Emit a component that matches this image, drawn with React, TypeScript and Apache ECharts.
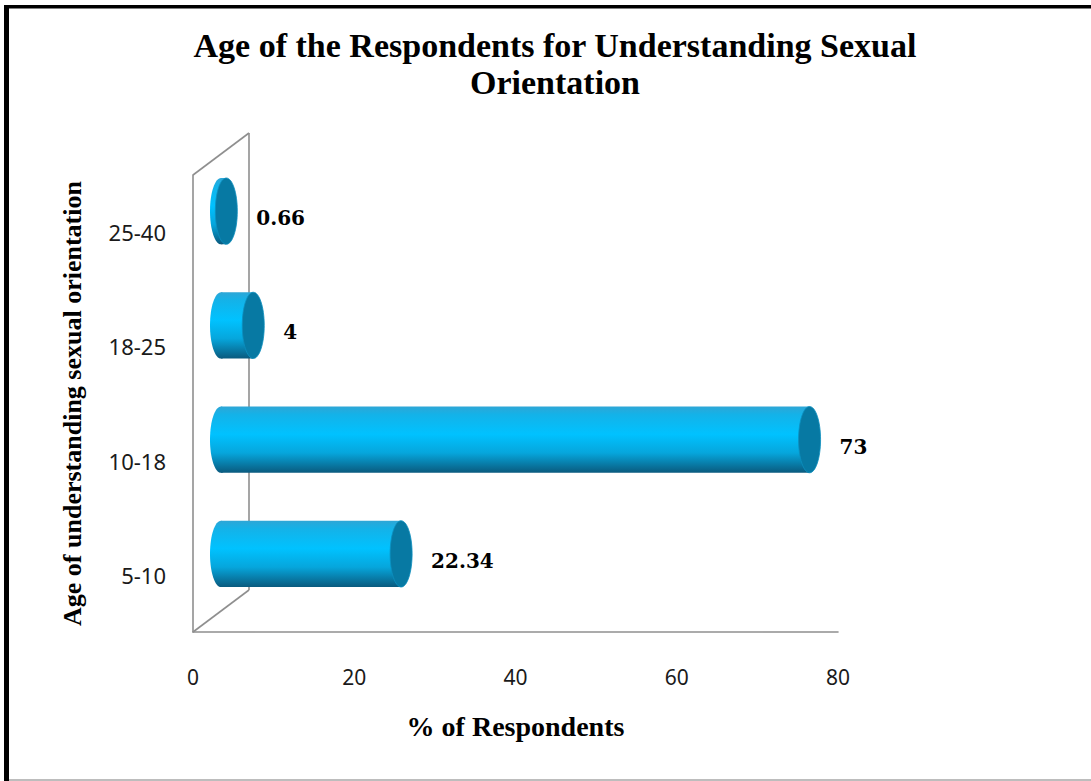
import React, { useEffect, useRef } from "react";
import * as echarts from "echarts";

const categories = ["5-10", "10-18", "18-25", "25-40"];
const values = [22.34, 73, 4, 0.66];
const valueLabels = ["22.34", "73", "4", "0.66"];
const xMin = 0;
const xMax = 80;
const xInterval = 20;

const DEPTH_X = 56;
const DEPTH_Y = -42;
const WALL = "#8f8f8f";

export default function App() {
  const ref = useRef<HTMLDivElement>(null);
  useEffect(() => {
    if (!ref.current) return;
    const chart = echarts.init(ref.current, null, { renderer: "svg" });
    const bodyGradient = () =>
      new echarts.graphic.LinearGradient(0, 0, 0, 1, [
        { offset: 0, color: "#2ea6d6" },
        { offset: 0.12, color: "#14b2e8" },
        { offset: 0.42, color: "#00c2ff" },
        { offset: 0.7, color: "#06a6dc" },
        { offset: 1, color: "#0a5a7e" },
      ]);
    const option: any = {
      animation: false,
      backgroundColor: "#ffffff",
      grid: { left: 193, right: 253, top: 175, bottom: 149 },
      xAxis: {
        type: "value",
        min: xMin,
        max: xMax,
        interval: xInterval,
        name: "% of Respondents",
        nameLocation: "middle",
        nameGap: 80,
        nameTextStyle: {
          fontFamily: "Liberation Serif",
          fontWeight: "bold",
          fontSize: 28,
          color: "#000",
        },
        axisLine: { show: true, lineStyle: { color: WALL, width: 1.6 } },
        axisTick: { show: false },
        splitLine: { show: false },
        axisLabel: {
          margin: 34,
          fontFamily: "Noto Sans",
          fontSize: 21,
          color: "#1a1a1a",
        },
      },
      yAxis: {
        type: "category",
        data: categories,
        name: "Age of understanding sexual orientation",
        nameLocation: "middle",
        nameRotate: 90,
        nameGap: 108,
        nameTextStyle: {
          fontFamily: "Liberation Serif",
          fontWeight: "bold",
          fontSize: 26,
          color: "#000",
        },
        axisLine: { show: true, lineStyle: { color: WALL, width: 1.6 } },
        axisTick: { show: false },
        splitLine: { show: false },
        axisLabel: {
          margin: 27,
          fontFamily: "Noto Sans",
          fontSize: 22,
          color: "#1a1a1a",
          lineHeight: 30,
          padding: [12, 0, 0, 0],
        },
      },
      graphic: [
        { type: "rect", shape: { x: 4, y: 5, width: 5, height: 776 }, style: { fill: "#000" }, z: 100 },
        { type: "rect", shape: { x: 4, y: 5, width: 1087, height: 3.5 }, style: { fill: "#000" }, z: 100 },
        { type: "rect", shape: { x: 9, y: 779, width: 1082, height: 2 }, style: { fill: "#bdbdbd" }, z: 100 },
        {
          type: "text",
          x: 555,
          y: 27,
          style: {
            text: "Age of the Respondents for Understanding Sexual\nOrientation",
            fontFamily: "Liberation Serif",
            fontWeight: "bold",
            fontSize: 34,
            lineHeight: 37,
            fill: "#000",
            textAlign: "center",
            textVerticalAlign: "top",
          },
        },
      ],
      series: [
        {
          type: "custom",
          name: "walls",
          data: [[0, 0]],
          encode: { x: 0, y: 1 },
          clip: false,
          silent: true,
          z: 1,
          renderItem: (params: any) => {
            const cs = params.coordSys;
            const x0 = cs.x;
            const y0 = cs.y;
            const y1 = cs.y + cs.height;
            const st = { stroke: WALL, lineWidth: 1.6, fill: "none" };
            return {
              type: "group",
              children: [
                { type: "line", shape: { x1: x0, y1: y1, x2: x0 + DEPTH_X, y2: y1 + DEPTH_Y }, style: st },
                { type: "line", shape: { x1: x0, y1: y0, x2: x0 + DEPTH_X, y2: y0 + DEPTH_Y }, style: st },
                { type: "line", shape: { x1: x0 + DEPTH_X, y1: y0 + DEPTH_Y, x2: x0 + DEPTH_X, y2: y1 + DEPTH_Y }, style: st },
              ],
            };
          },
        },
        {
          type: "custom",
          name: "% of Respondents",
          data: values.map((v, i) => [v, i]),
          encode: { x: 0, y: 1 },
          clip: false,
          z: 5,
          renderItem: (params: any, api: any) => {
            const val = api.value(0);
            const cat = api.value(1);
            const s = api.coord([0, cat]);
            const e = api.coord([val, cat]);
            const band = api.size([0, 1])[1];
            const h = band * 0.58;
            const rx = 11;
            const cx0 = s[0] + DEPTH_X / 2;
            const cx1 = e[0] + DEPTH_X / 2;
            const cy = s[1] + DEPTH_Y / 2;
            return {
              type: "group",
              children: [
                { type: "ellipse", shape: { cx: cx0, cy, rx, ry: h / 2 }, style: { fill: bodyGradient() } },
                { type: "rect", shape: { x: cx0, y: cy - h / 2, width: Math.max(cx1 - cx0, 0), height: h }, style: { fill: bodyGradient() } },
                { type: "ellipse", shape: { cx: cx1, cy, rx, ry: h / 2 }, style: { fill: "#0779a3", stroke: "#0c8fbf", lineWidth: 0.8 } },
                {
                  type: "text",
                  x: cx1 + 30,
                  y: cy + 7,
                  style: {
                    text: valueLabels[params.dataIndex],
                    fontFamily: "DejaVu Serif",
                    fontWeight: "bold",
                    fontSize: 20,
                    fill: "#000",
                    textAlign: "left",
                    textVerticalAlign: "middle",
                  },
                },
              ],
            };
          },
        },
      ],
    };
    chart.setOption(option);
    return () => chart.dispose();
  }, []);
  return (
    <div
      ref={ref}
      style={{ position: "fixed", left: 0, top: 0, width: 1091, height: 781 }}
    />
  );
}
